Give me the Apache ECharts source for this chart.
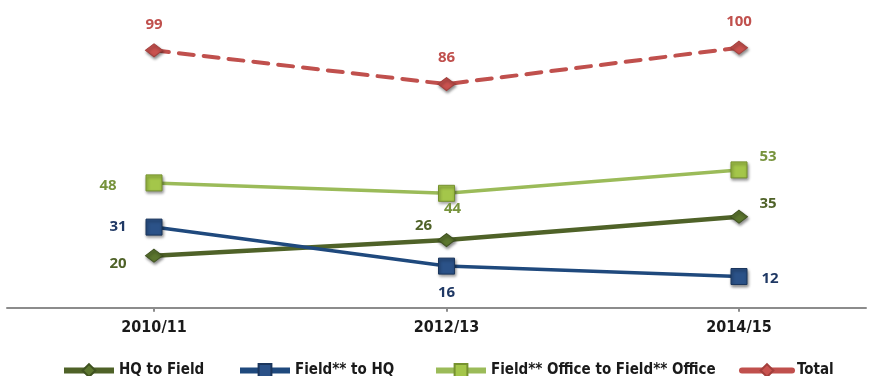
<!DOCTYPE html>
<html>
<head>
<meta charset="utf-8">
<script src="https://cdn.jsdelivr.net/npm/echarts@6/dist/echarts.min.js"></script>
<style>
  html, body { margin: 0; padding: 0; background: #fff; }
  #chart { width: 871px; height: 376px; }
</style>
</head>
<body>
<div id="chart"></div>
<script>
// Periods on the category axis
const periods = ['2010/11', '2012/13', '2014/15'];

// Moves per period
const hqToField = [20, 26, 35];
const fieldToHq = [31, 16, 12];
const officeToOffice = [48, 44, 53];
const total = [99, 86, 100];

// Series names
const names = ['HQ to Field', 'Field** to HQ', 'Field** Office to Field** Office', 'Total'];

// Label offsets (px from the point) for each series
const offsets = {
  hq:     [[-36, 8], [-23, -14], [29, -13]],
  field:  [[-36, 0], [0, 27], [31, 2]],
  office: [[-46, 3], [6, 15], [29, -13]],
  total:  [[0, -26], [0, -26], [0, -26]]
};

const narrow = '"DejaVu Sans Condensed", "Liberation Sans Narrow", "Arial Narrow", sans-serif';
const labelFont = { fontFamily: 'Open Sans', fontWeight: 'bold', fontSize: 15 };

function points(values, offs, color) {
  return values.map((v, i) => ({
    value: v,
    label: {
      show: true, position: 'inside', offset: offs[i],
      color: color, ...labelFont
    }
  }));
}

const shadow = { shadowBlur: 3, shadowColor: 'rgba(0,0,0,0.45)', shadowOffsetX: 1, shadowOffsetY: 2 };

const chart = echarts.init(document.getElementById('chart'), null, { renderer: 'canvas' });

const legendText = { fontFamily: narrow, fontWeight: 'bold', fontSize: 15, color: '#1a1a1a' };
function legendAt(name, left) {
  return {
    data: [name], left: left, top: 358, itemWidth: 50, itemHeight: 16, itemGap: 0,
    textStyle: legendText, selectedMode: false,
    lineStyle: { width: 6, type: 'solid' }
  };
}

chart.setOption({
  animation: false,
  backgroundColor: '#ffffff',
  grid: [
    // plot area reaches past the right edge so the category bands land where they should
    { left: 7.75, width: 877.5, top: 21.7, bottom: 68.3, outerBoundsMode: 'none', containLabel: false },
    { left: 7, right: 5, top: 21.7, bottom: 68.3, outerBoundsMode: 'none', containLabel: false }
  ],
  legend: [
    legendAt(names[0], 56),
    legendAt(names[1], 232),
    legendAt(names[2], 428),
    legendAt(names[3], 734)
  ],
  xAxis: [
    {
      type: 'category', data: periods, gridIndex: 0, boundaryGap: true,
      axisLine: { show: false },
      axisTick: { show: true, alignWithLabel: true, length: 4, lineStyle: { color: '#8c8c8c', width: 2 } },
      axisLabel: { margin: 12, color: '#1a1a1a', fontFamily: narrow, fontWeight: 'bold', fontSize: 16 }
    },
    {
      type: 'value', gridIndex: 1, min: 0, max: 1,
      axisLine: { show: true, lineStyle: { color: '#8c8c8c', width: 2 } },
      axisTick: { show: false }, axisLabel: { show: false }, splitLine: { show: false }
    }
  ],
  yAxis: [
    { type: 'value', gridIndex: 0, min: 0, max: 110, show: false },
    { type: 'value', gridIndex: 1, min: 0, max: 1, show: false }
  ],
  series: [
    {
      name: names[0], type: 'line', data: points(hqToField, offsets.hq, '#4f6228'),
      symbol: 'diamond', symbolSize: [17, 13], z: 3,
      lineStyle: { color: '#4f6228', width: 4.5 },
      itemStyle: { color: '#5c762f', borderColor: '#3f5220', borderWidth: 1, ...shadow }
    },
    {
      name: names[1], type: 'line', data: points(fieldToHq, offsets.field, '#1f3864'),
      symbol: 'rect', symbolSize: 16, z: 3,
      lineStyle: { color: '#1f497d', width: 3.5 },
      itemStyle: { color: '#2b5288', borderColor: '#1b365d', borderWidth: 1, ...shadow }
    },
    {
      name: names[2], type: 'line', data: points(officeToOffice, offsets.office, '#77933c'),
      symbol: 'rect', symbolSize: 16, z: 3,
      lineStyle: { color: '#9bbb59', width: 3.5 },
      itemStyle: { color: '#a4c64a', borderColor: '#76922f', borderWidth: 1, ...shadow }
    },
    {
      name: names[3], type: 'line', data: points(total, offsets.total, '#c0504d'),
      symbol: 'diamond', symbolSize: [17, 13], z: 3,
      lineStyle: { color: '#c0504d', width: 4, type: [15, 10], cap: 'round' },
      itemStyle: { color: '#c9524f', borderColor: '#a33f3c', borderWidth: 1, ...shadow }
    }
  ]
});
</script>
</body>
</html>
